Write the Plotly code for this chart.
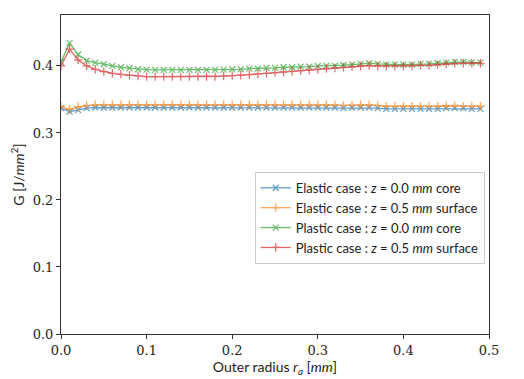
import plotly.graph_objects as go

r_a = [round(0.01 * i, 2) for i in range(50)]

elastic_core = [0.337, 0.332, 0.334, 0.337, 0.338, 0.338, 0.338, 0.338, 0.338, 0.338,
                0.338, 0.338, 0.338, 0.338, 0.338, 0.338, 0.338, 0.338, 0.338, 0.338,
                0.338, 0.338, 0.338, 0.338, 0.338, 0.338, 0.338, 0.338, 0.338, 0.338,
                0.338, 0.338, 0.338, 0.337, 0.338, 0.338, 0.338, 0.337, 0.336, 0.336,
                0.336, 0.336, 0.336, 0.336, 0.336, 0.337, 0.337, 0.337, 0.336, 0.336]
elastic_surface = [0.339, 0.335, 0.339, 0.341, 0.342, 0.342, 0.342, 0.342, 0.342, 0.342,
                   0.342, 0.342, 0.342, 0.342, 0.342, 0.342, 0.342, 0.342, 0.342, 0.342,
                   0.342, 0.342, 0.342, 0.342, 0.342, 0.342, 0.342, 0.342, 0.342, 0.342,
                   0.342, 0.342, 0.342, 0.341, 0.341, 0.342, 0.342, 0.341, 0.340, 0.340,
                   0.340, 0.340, 0.340, 0.340, 0.340, 0.341, 0.341, 0.340, 0.340, 0.340]
plastic_core = [0.406, 0.434, 0.417, 0.408, 0.405, 0.4025, 0.400, 0.398, 0.3966, 0.395,
                0.3945, 0.394, 0.394, 0.394, 0.394, 0.394, 0.394, 0.394, 0.394, 0.3945,
                0.395, 0.395, 0.396, 0.396, 0.397, 0.397, 0.398, 0.398, 0.399, 0.399,
                0.400, 0.400, 0.400, 0.401, 0.402, 0.403, 0.404, 0.403, 0.402, 0.402,
                0.402, 0.402, 0.403, 0.403, 0.404, 0.405, 0.406, 0.406, 0.405, 0.405]
plastic_surface = [0.400, 0.425, 0.409, 0.400, 0.395, 0.3915, 0.389, 0.3875, 0.386, 0.385,
                   0.384, 0.384, 0.384, 0.384, 0.384, 0.384, 0.384, 0.384, 0.384, 0.385,
                   0.3855, 0.386, 0.387, 0.388, 0.389, 0.390, 0.391, 0.392, 0.393, 0.394,
                   0.395, 0.396, 0.397, 0.398, 0.399, 0.400, 0.4005, 0.400, 0.400, 0.400,
                   0.400, 0.400, 0.401, 0.401, 0.402, 0.403, 0.404, 0.404, 0.404, 0.404]

x_ticks = [0.0, 0.1, 0.2, 0.3, 0.4, 0.5]
x_tick_labels = ["0.0", "0.1", "0.2", "0.3", "0.4", "0.5"]
y_ticks = [0.0, 0.1, 0.2, 0.3, 0.4]
y_tick_labels = ["0.0", "0.1", "0.2", "0.3", "0.4"]

series = [
    ("Elastic case : <i>z</i> = 0.0 <i>mm</i> core", elastic_core, "#1f77b4", "x-thin"),
    ("Elastic case : <i>z</i> = 0.5 <i>mm</i> surface", elastic_surface, "#ff7f0e", "cross-thin"),
    ("Plastic case : <i>z</i> = 0.0 <i>mm</i> core", plastic_core, "#2ca02c", "x-thin"),
    ("Plastic case : <i>z</i> = 0.5 <i>mm</i> surface", plastic_surface, "#d62728", "cross-thin"),
]

fig = go.Figure()
for name, ys, color, sym in series:
    fig.add_trace(go.Scatter(
        x=r_a, y=ys, name=name, mode="lines+markers",
        line=dict(color=color, width=1.3),
        marker=dict(symbol=sym, size=6, line=dict(color=color, width=1.2)),
        opacity=0.7,
    ))

serif = "DejaVu Serif"
sans = "Lato"
axis_common = dict(
    showgrid=False, zeroline=False, showline=True, linecolor="#333", linewidth=1,
    mirror=True, ticks="outside", ticklen=4, tickcolor="#333",
    tickfont=dict(family=serif, size=13, color="#222"),
)
fig.update_xaxes(range=[0, 0.5], tickmode="array", tickvals=x_ticks, ticktext=x_tick_labels,
                 title=dict(text="Outer radius <i>r<sub>a</sub></i> [<i>mm</i>]",
                            font=dict(family=sans, size=14, color="#222"), standoff=4),
                 **axis_common)
fig.update_yaxes(range=[0, 0.476], tickmode="array", tickvals=y_ticks, ticktext=y_tick_labels,
                 title=dict(text="G [J/<i>mm</i><sup>2</sup>]",
                            font=dict(family=sans, size=14, color="#222"), standoff=6),
                 **axis_common)

fig.update_layout(
    width=524, height=379,
    margin=dict(l=53, r=43, t=7, b=53),
    plot_bgcolor="white", paper_bgcolor="white",
    legend=dict(x=0.99, y=0.22, xanchor="right", yanchor="bottom",
                bgcolor="rgba(255,255,255,0.8)", bordercolor="#ccc", borderwidth=1,
                font=dict(family=sans, size=13, color="#222"),
                itemwidth=30, tracegroupgap=0),
    showlegend=True,
)

fig.write_html("out.html")
